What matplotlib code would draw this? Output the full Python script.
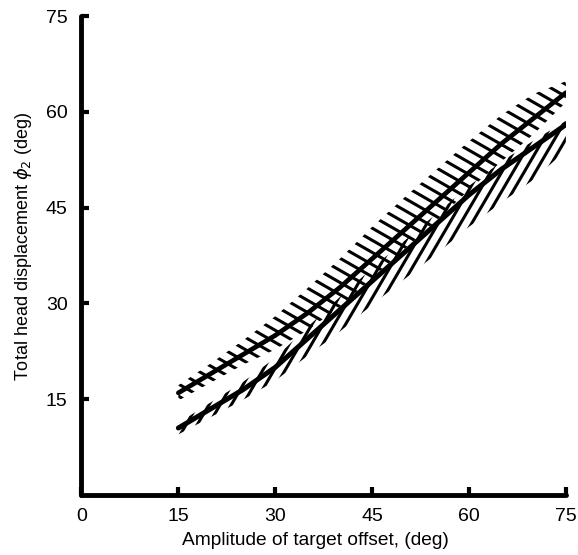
import numpy as np
import matplotlib
matplotlib.use("Agg")
import matplotlib.pyplot as plt
from matplotlib.collections import LineCollection
from matplotlib.patches import Polygon

# ---- data ----
amplitude = [15, 20, 25, 30, 35, 40, 45, 50, 55, 60, 65, 70, 75]
upper_mean = [16, 19, 22, 25, 28.5, 32.5, 37, 41.5, 46, 50.5, 55, 59, 63]
upper_hi = [17.2, 20.6, 24.2, 28.0, 32.4, 37.0, 42.0, 46.6, 51.0, 55.4, 59.5, 62.8, 64.8]
upper_lo = [14.8, 17.6, 20.4, 22.8, 25.8, 29.5, 34.0, 38.5, 43.0, 47.8, 52.2, 56.5, 61.5]
lower_mean = [10.5, 13.5, 16.5, 20, 24.5, 29, 33.5, 38, 42.5, 47, 51, 54.5, 58]
lower_hi = [11.3, 14.5, 17.7, 21.5, 26.3, 31.0, 35.5, 39.8, 44.1, 48.4, 52.2, 55.5, 58.6]
lower_lo = [9.5, 12.2, 14.9, 17.9, 21.8, 25.6, 29.8, 33.8, 37.8, 42.0, 45.8, 49.4, 54.0]
xticks = [0, 15, 30, 45, 60, 75]
yticks = [15, 30, 45, 60, 75]

plt.rcParams["font.family"] = ["Liberation Sans", "DejaVu Sans"]
fig = plt.figure(figsize=(5.78, 5.55), dpi=100)
ax = fig.add_axes([0.141, 0.108, 0.838, 0.863])
ax.set_xlim(0, 75)
ax.set_ylim(0, 75)


def hatch_band(x, lo, hi, slope, spacing, lw):
    verts = np.column_stack([np.r_[x, x[::-1]], np.r_[hi, lo[::-1]]])
    poly = Polygon(verts, closed=True, fill=False, lw=0, transform=ax.transData)
    ax.add_patch(poly)
    xs = np.array([-10.0, 90.0])
    segs = []
    for b in np.arange(-200, 200, spacing):
        segs.append(np.column_stack([xs, slope * xs + b]))
    lc = LineCollection(segs, colors="black", linewidths=lw, capstyle="round")
    ax.add_collection(lc)
    lc.set_clip_path(poly)


x = np.array(amplitude, float)
hatch_band(x, np.array(upper_lo), np.array(upper_hi), -0.58, 1.9, 2.2)
hatch_band(x, np.array(lower_lo), np.array(lower_hi), 1.73, 3.0, 2.2)

ax.plot(amplitude, upper_mean, color="black", lw=3.4, solid_capstyle="round")
ax.plot(amplitude, lower_mean, color="black", lw=3.6, solid_capstyle="round")

for s in ["top", "right"]:
    ax.spines[s].set_visible(False)
for s in ["left", "bottom"]:
    ax.spines[s].set_linewidth(3.5)
    ax.spines[s].set_capstyle("round")

ax.set_xticks(xticks)
ax.set_yticks(yticks)
ax.set_xticklabels([str(v) for v in xticks])
ax.set_yticklabels([str(v) for v in yticks])
ax.tick_params(direction="in", length=6, width=3, labelsize=14, color="black")
ax.tick_params(axis="y", pad=10)
ax.tick_params(axis="x", pad=9)
for t in ax.get_xticklines() + ax.get_yticklines():
    t.set_clip_on(False)

ax.set_xlabel("Amplitude of target offset, (deg)", fontsize=13.8)
ax.set_ylabel(r"Total head displacement $\phi_2$ (deg)", fontsize=13)
ax.xaxis.set_label_coords(0.4835, -0.078)
ax.yaxis.set_label_coords(-0.099, 0.519)

fig.savefig("out.png", dpi=100)
